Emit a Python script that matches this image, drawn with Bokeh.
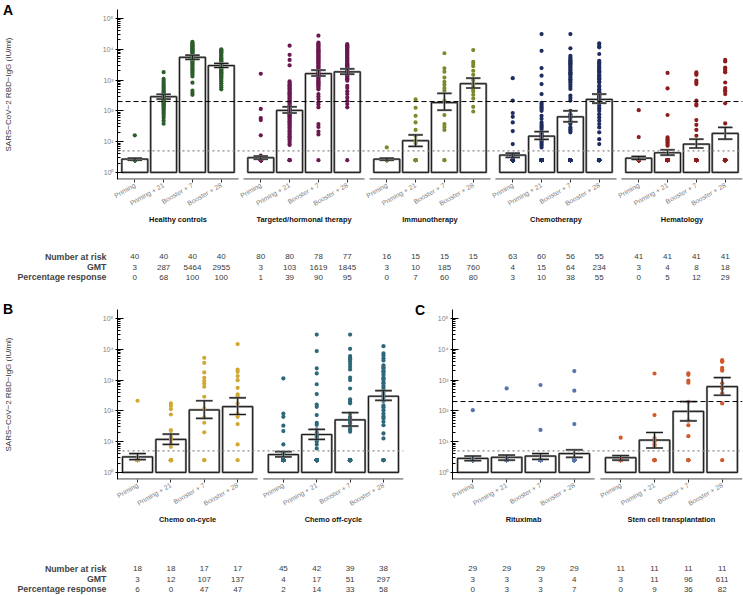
import math
from bokeh.plotting import figure
from bokeh.models import FactorRange, Range1d, FixedTicker, Span, Div, GridBox
from bokeh.core.properties import value
from bokeh.embed import file_html
from bokeh.resources import INLINE

FONT = "Liberation Sans"

# ---------------- data ----------------
timepoints = ["Priming", "Priming + 21", "Booster + 7", "Booster + 28"]
table_rows = ["Number at risk", "GMT", "Percentage response"]

facets_A = ["Healthy controls", "Targeted/hormonal therapy", "Immunotherapy", "Chemotherapy", "Hematology"]
facets_B = ["Chemo on-cycle", "Chemo off-cycle"]
facets_C = ["Rituximab", "Stem cell transplantation"]

colors_A = ["#2C5E2C", "#6B1850", "#7A8A2C", "#1F2C5E", "#8C1D1D"]
colors_B = ["#D2A834", "#2E6879"]
colors_C = ["#5775AC", "#D2592C"]

# individual titres (IU/ml) per timepoint
healthy_pts = [
    [16] + [2.5] * 39,
    [1800, 1100, 950, 820, 720, 640, 580, 520, 470, 430, 400, 370, 350, 330, 310, 295, 280, 265, 250, 240,
     230, 220, 210, 200, 190, 180, 170, 160, 150, 140, 130, 120, 110, 100, 90, 80, 70, 60, 48, 38],
    [17500, 16000, 15000, 14000, 13000, 12500, 12000, 11000, 10500, 10000, 9500, 9000, 8500, 8000, 7500, 7000,
     6600, 6200, 5800, 5500, 5200, 4900, 4600, 4300, 4000, 3700, 3400, 3100, 2800, 2500, 2300, 2100, 1900,
     1700, 1500, 1300, 820, 450, 380, 330],
    [10000, 9200, 8500, 8000, 7500, 7000, 6500, 6000, 5600, 5200, 4900, 4600, 4300, 4000, 3800, 3600, 3400,
     3200, 3000, 2800, 2650, 2500, 2350, 2200, 2050, 1900, 1800, 1700, 1600, 1500, 1400, 1300, 1200, 1100,
     1000, 900, 780, 680, 580, 500],
]
targeted_pts = [
    [1600, 115, 58, 50, 16, 3.5, 3.2] + [2.5] * 73,
    [13000, 6600, 4500, 3000, 900, 820, 740, 680, 620, 560, 520, 480, 440, 400, 370, 340, 310, 280, 260, 240,
     220, 200, 185, 170, 155, 140, 130, 120, 110, 100, 92, 85, 78, 72, 66, 60, 55, 50, 46, 42, 38, 35, 32, 29,
     26, 23, 21, 19, 17, 15, 13.5, 12, 10, 8.5, 7.8, 2.5, 2.5, 2.5],
    [27500, 16500, 15000, 14000, 13000, 12000, 11000, 10000, 9300, 8600, 8000, 7400, 6800, 6300, 5800, 5400,
     5000, 4600, 4300, 4000, 3700, 3400, 3100, 2900, 2700, 2500, 2300, 2150, 2000, 1850, 1700, 1600, 1500,
     1400, 1300, 1200, 1100, 1000, 920, 850, 780, 720, 660, 600, 550, 500, 350, 290, 240, 190, 160, 130, 37,
     30, 21, 17, 2.5],
    [14700, 13500, 12500, 11500, 10500, 9700, 9000, 8300, 7700, 7100, 6600, 6100, 5600, 5200, 4800, 4500, 4200,
     3900, 3600, 3400, 3200, 3000, 2800, 2600, 2450, 2300, 2150, 2000, 1880, 1760, 1650, 1550, 1450, 1350,
     1250, 1150, 1050, 950, 650, 550, 430, 350, 270, 210, 165, 130, 2.5],
]
immuno_pts = [
    [6.5] + [2.5] * 14,
    [235, 126, 69, 42, 24, 15.5, 10.7, 8.7] + [2.5] * 7,
    [7400, 2400, 1860, 1200, 870, 700, 550, 450, 213, 73, 37, 30, 24, 2.5, 2.5],
    [9400, 3900, 3300, 2800, 2000, 1480, 1000, 740, 600, 510, 430, 330, 250, 135, 95],
]
chemo_pts = [
    [1150, 215, 85, 64, 42, 22, 8.3, 3.6] + [2.5] * 55,
    [31000, 8900, 2450, 1380, 740, 350, 180, 160, 140, 125, 114, 100, 69, 55, 42, 36, 32, 29, 25, 21, 19, 17.5,
     15.5, 14, 12.5, 11, 10.7, 9.5, 8.3, 7.5, 6.5] + [2.5] * 25,
    [31000, 10700, 6100, 5400, 4800, 4400, 4000, 3700, 3450, 3200, 2900, 2650, 2450, 2200, 2000, 1800, 1650,
     1500, 1380, 1200, 1060, 950, 830, 700, 600, 510, 310, 260, 215, 100, 78, 68, 58, 48, 42, 37, 29, 25, 22,
     20] + [2.5] * 16,
    [15500, 13000, 11500, 7000, 4200, 3700, 3400, 3100, 2700, 2500, 2300, 2000, 1900, 1780, 1500, 1400, 1270,
     1150, 1050, 900, 830, 650, 600, 500, 450, 400, 380, 350, 320, 300, 270, 240, 215, 175, 145, 122, 100, 78,
     61, 48, 37, 29, 20, 12, 8.3] + [2.5] * 10,
]
hemato_pts = [
    [105, 14] + [2.5] * 39,
    [1700, 535, 73, 13.7, 12, 10.7, 9.5, 8.3, 7.4] + [2.5] * 32,
    [1770, 1630, 1480, 950, 830, 740, 215, 165, 150, 50, 35, 24, 15.5] + [2.5] * 28,
    [4500, 4000, 2550, 2300, 2000, 1780, 830, 550, 470, 430, 350, 175, 39] + [2.5] * 28,
]
oncycle_pts = [
    [212] + [2.5] * 17,
    [174, 143, 114, 76, 23.6, 17.6, 13.7, 11.2, 8.7, 6.8] + [2.5] * 8,
    [5250, 3630, 1770, 1180, 930, 775, 605, 286, 120, 61, 41, 20, 2.5, 2.5],
    [14700, 2170, 1840, 1340, 990, 560, 340, 286, 174, 82, 64, 37, 8.1, 2.5],
]
offcycle_pts = [
    [1130, 82, 64, 33, 22, 8.1, 4.2] + [2.5] * 38,
    [30000, 8700, 2400, 1640, 730, 350, 160, 135, 73, 41, 35, 25, 20, 16, 14, 12.7, 11, 10, 8.1, 6] + [2.5] * 22,
    [30000, 10300, 6000, 5300, 4700, 4000, 3300, 2700, 2200, 1200, 1000, 530, 235, 200, 175, 82, 64, 58, 50,
     45, 39, 30, 25, 21] + [2.5] * 15,
    [12600, 7300, 6200, 5100, 4300, 3000, 2600, 2400, 2000, 1900, 1700, 1450, 1200, 1100, 1030, 870, 780, 650,
     570, 480, 410, 330, 260, 210, 150, 130, 105, 82, 67, 57, 44, 34, 18.5, 12.7, 2.5, 2.5, 2.5, 2.5],
]
ritux_pts = [
    [105] + [2.5] * 28,
    [535] + [2.5] * 28,
    [690, 24] + [2.5] * 27,
    [1950, 450, 37] + [2.5] * 26,
]
stemcell_pts = [
    [13.4] + [2.5] * 10,
    [1630, 73, 13, 10, 8.3, 7.4] + [2.5] * 5,
    [1650, 1480, 950, 820, 195, 48, 34, 15, 2.5, 2.5, 2.5],
    [4400, 4100, 3900, 2500, 2200, 2000, 780, 530, 370, 174, 2.5],
]

# bar heights (geometric mean titre) and 95% CI
healthy_gmt = [2.7, 287, 5464, 2955];  healthy_lo = [2.5, 240, 4700, 2550];  healthy_hi = [2.9, 345, 6400, 3450]
targeted_gmt = [3.0, 103, 1619, 1845]; targeted_lo = [2.7, 85, 1350, 1550];  targeted_hi = [3.4, 135, 2100, 2300]
immuno_gmt = [2.7, 10.7, 185, 760];    immuno_lo = [2.5, 7.0, 105, 550];      immuno_hi = [2.9, 16.5, 370, 1150]
chemo_gmt = [3.65, 15, 64, 234];       chemo_lo = [3.1, 11.8, 44, 178];      chemo_hi = [4.2, 21, 100, 350]
hemato_gmt = [2.9, 4.35, 8.3, 18.5];   hemato_lo = [2.65, 3.65, 6.2, 12];    hemato_hi = [3.3, 5.4, 12, 29]
oncycle_gmt = [3.2, 11.8, 107, 137];   oncycle_lo = [2.6, 8.1, 57, 76];      oncycle_hi = [4.1, 17.5, 212, 265]
offcycle_gmt = [3.8, 17, 51, 297];     offcycle_lo = [3.2, 11.8, 32, 220];   offcycle_hi = [4.7, 25, 87, 450]
ritux_gmt = [2.85, 3.1, 3.4, 4.1];     ritux_lo = [2.4, 2.5, 2.65, 3.1];     ritux_hi = [3.4, 3.65, 4.1, 5.4]
stemcell_gmt = [3.0, 11.2, 96, 611];   stemcell_lo = [2.5, 6.2, 47, 320];    stemcell_hi = [3.5, 19.8, 200, 1200]

# table rows
healthy_tab = [[40, 40, 40, 40], [3, 287, 5464, 2955], [0, 68, 100, 100]]
targeted_tab = [[80, 80, 78, 77], [3, 103, 1619, 1845], [1, 39, 90, 95]]
immuno_tab = [[16, 15, 15, 15], [3, 10, 185, 760], [0, 7, 60, 80]]
chemo_tab = [[63, 60, 56, 55], [4, 15, 64, 234], [3, 10, 38, 55]]
hemato_tab = [[41, 41, 41, 41], [3, 4, 8, 18], [0, 5, 12, 29]]
oncycle_tab = [[18, 18, 17, 17], [3, 12, 107, 137], [6, 0, 47, 47]]
offcycle_tab = [[45, 42, 39, 38], [4, 17, 51, 297], [2, 14, 33, 58]]
ritux_tab = [[29, 29, 29, 29], [3, 3, 3, 4], [0, 3, 3, 7]]
stemcell_tab = [[11, 11, 11, 11], [3, 11, 96, 611], [0, 9, 36, 82]]

threshold_response = 200
threshold_lod = 5
Y_LO, Y_HI = 10 ** -0.23, 10 ** 5.29
YTITLE = "SARS\u2212CoV\u22122 RBD\u2212IgG (IU/ml)"

groups_A = [(healthy_pts, healthy_gmt, healthy_lo, healthy_hi, healthy_tab),
            (targeted_pts, targeted_gmt, targeted_lo, targeted_hi, targeted_tab),
            (immuno_pts, immuno_gmt, immuno_lo, immuno_hi, immuno_tab),
            (chemo_pts, chemo_gmt, chemo_lo, chemo_hi, chemo_tab),
            (hemato_pts, hemato_gmt, hemato_lo, hemato_hi, hemato_tab)]
groups_B = [(oncycle_pts, oncycle_gmt, oncycle_lo, oncycle_hi, oncycle_tab),
            (offcycle_pts, offcycle_gmt, offcycle_lo, offcycle_hi, offcycle_tab)]
groups_C = [(ritux_pts, ritux_gmt, ritux_lo, ritux_hi, ritux_tab),
            (stemcell_pts, stemcell_gmt, stemcell_lo, stemcell_hi, stemcell_tab)]

SUP = {0: "\u2070", 1: "\u00b9", 2: "\u00b2", 3: "\u00b3", 4: "\u2074", 5: "\u2075"}


def make_xrange(facets):
    return FactorRange(factors=[(f, t) for f in facets for t in timepoints],
                       group_padding=0.37, factor_padding=0.0,
                       range_padding=0.1, range_padding_units="absolute")


def style_plain(p):
    p.outline_line_color = None
    p.background_fill_color = "white"
    p.border_fill_color = "white"
    p.xgrid.visible = False
    p.ygrid.visible = False


def panel(facets, groups, colors, xr, width, height, bl, br, bt, bb, ytitle, dashed):
    p = figure(width=width, height=height, x_range=xr, y_range=Range1d(Y_LO, Y_HI),
               y_axis_type="log", output_backend="svg", toolbar_location=None,
               min_border_left=bl, min_border_right=br, min_border_top=bt, min_border_bottom=bb)
    style_plain(p)

    bx, btop, elo, ehi, cx0, cx1 = [], [], [], [], [], []
    px, py, pc = [], [], []
    sx0, sx1 = [], []
    for f, (pts, gmt, lo, hi, tab), col in zip(facets, groups, colors):
        sx0.append((f, timepoints[0], -0.6))
        sx1.append((f, timepoints[-1], 0.6))
        for i, t in enumerate(timepoints):
            bx.append((f, t)); btop.append(gmt[i])
            elo.append(lo[i]); ehi.append(hi[i])
            cx0.append((f, t, -0.25)); cx1.append((f, t, 0.25))
            for v in pts[i]:
                px.append((f, t)); py.append(v); pc.append(col)

    p.vbar(x=bx, top=btop, bottom=1, width=0.9, fill_color="white",
           line_color="#8a8a8a", line_width=2.2)
    p.vbar(x=bx, top=btop, bottom=1, width=0.9, fill_alpha=0,
           line_color="#1a1a1a", line_width=1)
    p.scatter(x=px, y=py, size=4.2, fill_color=pc, line_color=None)
    for lw, lc in ((2.2, "#8a8a8a"), (1, "#1a1a1a")):
        p.segment(x0=bx, x1=bx, y0=elo, y1=ehi, line_color=lc, line_width=lw)
        p.segment(x0=cx0, x1=cx1, y0=elo, y1=elo, line_color=lc, line_width=lw)
        p.segment(x0=cx0, x1=cx1, y0=ehi, y1=ehi, line_color=lc, line_width=lw)
    base = Y_LO * 10 ** 0.012
    p.segment(x0=sx0, x1=sx1, y0=[base] * len(sx0), y1=[base] * len(sx0),
              line_color="#333333", line_width=1.2)

    if dashed:
        p.add_layout(Span(location=threshold_response, dimension="width", line_color="black",
                          line_dash="5 3", line_width=1))
    p.add_layout(Span(location=threshold_lod, dimension="width", line_color="#888888",
                      line_dash="2 3", line_width=1.3))

    xa = p.xaxis[0]
    xa.axis_line_color = None
    xa.major_tick_line_color = "#333333"
    xa.major_tick_out = 3
    xa.major_tick_in = 0
    xa.major_label_orientation = math.pi / 6
    xa.major_label_standoff = 2
    xa.major_label_text_font = FONT
    xa.major_label_text_font_size = "6.8px"
    xa.major_label_text_color = "#808080"
    xa.group_text_font = FONT
    xa.group_text_font_size = "7.4px"
    xa.group_text_font_style = "bold"
    xa.group_text_color = "#111111"
    xa.group_label_orientation = "horizontal"
    xa.separator_line_color = None

    ya = p.yaxis[0]
    ya.ticker = FixedTicker(ticks=[10 ** k for k in range(6)],
                            minor_ticks=[m * 10 ** k for k in range(5) for m in range(2, 10)])
    ya.major_label_overrides = {float(10 ** k): "10" + SUP[k] for k in range(6)}
    ya.axis_line_color = "black"
    ya.major_tick_line_color = "black"
    ya.minor_tick_line_color = "black"
    ya.major_tick_in = 6
    ya.major_tick_out = 2
    ya.minor_tick_in = 3
    ya.minor_tick_out = 0
    ya.major_label_standoff = 2
    ya.major_label_text_font = FONT
    ya.major_label_text_font_size = "7px"
    ya.major_label_text_color = "#808080"
    if ytitle:
        ya.axis_label = ytitle
        ya.axis_label_standoff = 87
        ya.axis_label_text_font = FONT
        ya.axis_label_text_font_size = "8px"
        ya.axis_label_text_font_style = "normal"
        ya.axis_label_text_color = "#333333"
    return p


def table(facets, groups, xr, width, height, bl, br, bt, bb, labels):
    t = figure(width=width, height=height, x_range=xr,
               y_range=FactorRange(factors=table_rows[::-1]),
               x_axis_location=None, y_axis_location=("left" if labels else None),
               output_backend="svg", toolbar_location=None,
               min_border_left=bl, min_border_right=br, min_border_top=bt, min_border_bottom=bb)
    style_plain(t)
    xs, ys, txt = [], [], []
    for f, g in zip(facets, groups):
        tab = g[4]
        for r, rname in enumerate(table_rows):
            for i, tp in enumerate(timepoints):
                xs.append((f, tp)); ys.append(rname); txt.append(str(tab[r][i]))
    t.text(x=xs, y=ys, text=txt, text_align="center", text_baseline="middle",
           text_font=value(FONT), text_font_size="8px", text_color="#3a3a3a")
    if labels:
        ya = t.yaxis[0]
        ya.axis_line_color = None
        ya.major_tick_line_color = None
        ya.minor_tick_line_color = None
        ya.major_label_standoff = 5
        ya.major_label_text_font = FONT
        ya.major_label_text_font_size = "8.8px"
        ya.major_label_text_font_style = "bold"
        ya.major_label_text_color = "#444444"
    return t


def letter_div(text, width, height, left, top):
    html = ('<div style="font-family:\'Liberation Sans\',Arial,sans-serif;font-weight:bold;'
            'font-size:14px;line-height:14px;color:#000;margin:0;padding:%dpx 0 0 %dpx;">%s</div>'
            % (top, left, text))
    return Div(text=html, width=width, height=height, margin=0)


xrA = make_xrange(facets_A)
xrB = make_xrange(facets_B)
xrC = make_xrange(facets_C)

figA = panel(facets_A, groups_A, colors_A, xrA, 743, 232, 113, 1, 9, 53, YTITLE, True)
tabA = table(facets_A, groups_A, xrA, 743, 68, 113, 1, 19, 18, True)
figB = panel(facets_B, groups_B, colors_B, xrB, 410, 247, 113, 7, 9, 68, YTITLE, False)
figC = panel(facets_C, groups_C, colors_C, xrC, 333, 247, 42, 1, 9, 68, None, True)
tabB = table(facets_B, groups_B, xrB, 410, 48, 113, 7, 16, 1, True)
tabC = table(facets_C, groups_C, xrC, 333, 48, 42, 1, 16, 1, False)

divA = letter_div("A", 410, 232, 3, 3)
divB = letter_div("B", 410, 247, 3, 2)
divC = letter_div("C", 333, 247, 5, 3)

layout = GridBox(children=[
    (figA, 0, 0, 1, 2), (tabA, 1, 0, 1, 2),
    (figB, 2, 0), (figC, 2, 1),
    (tabB, 3, 0), (tabC, 3, 1),
    (divA, 0, 0), (divB, 2, 0), (divC, 2, 1),
], spacing=0)

open("out.html", "w").write(file_html(layout, INLINE))
